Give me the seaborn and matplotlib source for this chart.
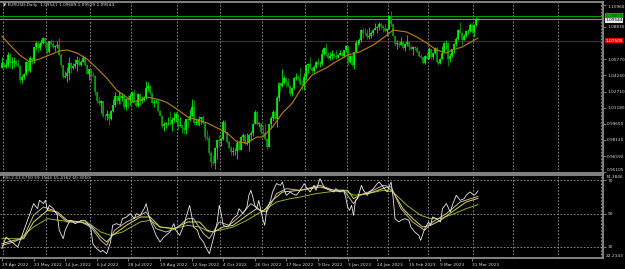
import numpy as np
import pandas as pd
import matplotlib
matplotlib.use("Agg")
import matplotlib.pyplot as plt
import seaborn as sns

# ---------------- data (EURUSD daily) ----------------
first_open = 1.0498
closes = [1.0545,
    1.0507,1.0525,1.0620,1.0540,1.0550, 1.0560,1.0530,1.0515,1.0380,1.0410, 1.0435,1.0550,1.0465,1.0585,1.0560, 1.0690,1.0735,1.0680,1.0725,1.0735, 1.0780,1.0735,
    1.0650,1.0750,1.0720, 1.0695,1.0705,1.0715,1.0615,1.0520, 1.0410,1.0415,1.0445,1.0545,1.0495, 1.0510,1.0535,1.0570,1.0520,1.0555, 1.0585,1.0520,1.0440,1.0480,
    1.0425, 1.0420,1.0265,1.0180,1.0160,1.0185, 1.0040,1.0035,1.0060,1.0015,1.0085, 1.0145,1.0225,1.0180,1.0230,1.0210, 1.0225,1.0120,1.0200,1.0195,1.0225,
    1.0260,1.0165,1.0135,1.0245,1.0185, 1.0195,1.0210,1.0300,1.0320,1.0260, 1.0160,1.0170,1.0175,1.0090,1.0040, 0.9945,0.9965,0.9970,0.9975,0.9965, 1.0000,1.0020,1.0055,
    0.9945,0.9955, 0.9925,0.9905,1.0010,1.0000,1.0040, 1.0120,0.9970,0.9980,0.9995,1.0015, 1.0025,0.9970,0.9840,0.9835,0.9690, 0.9605,0.9595,0.9735,0.9815,0.9800,
    0.9825,0.9985,0.9885,0.9795,0.9740, 0.9700,0.9705,0.9705,0.9780,0.9720, 0.9840,0.9855,0.9775,0.9780,0.9860, 0.9880,0.9965,1.0080,0.9965,0.9965, 0.9885,
    0.9875,0.9820,0.9750,0.9960, 1.0020,1.0075,1.0010,1.0210,1.0355, 1.0325,1.0350,1.0395,1.0365,1.0325, 1.0245,1.0305,1.0395,1.0410,1.0400, 1.0340,1.0330,1.0405,
    1.0525,1.0535, 1.0490,1.0465,1.0505,1.0555,1.0530, 1.0535,1.0630,1.0680,1.0625,1.0585, 1.0605,1.0625,1.0605,1.0595,1.0615, 1.0640,1.0610,1.0660,1.0705,
    1.0550,1.0605,1.0520,1.0645, 1.0730,1.0735,1.0760,1.0855,1.0830, 1.0825,1.0790,1.0795,1.0830,1.0855, 1.0870,1.0885,1.0915,1.0890,1.0870, 1.0845,1.0860,
    1.0990,1.0910,1.0795, 1.0725,1.0725,1.0715,1.0745,1.0680, 1.0725,1.0740,1.0690,1.0675,1.0695, 1.0685,1.0650,1.0605,1.0595,1.0545, 1.0610,1.0575,
    1.0670,1.0595,1.0635, 1.0685,1.0550,1.0545,1.0580,1.0640, 1.0730,1.0735,1.0575,1.0610,1.0670, 1.0720,1.0770,1.0855,1.0830,1.0760, 1.0800,1.0845,1.0845,1.0905,1.0840,
    1.0900,1.09541,1.09544]
highs = [1.0594,
    1.0546,1.0577,1.0642,1.0641,1.0600, 1.0594,1.0580,1.0578,1.0520,1.0425, 1.0445,1.0565,1.0565,1.0605,1.0600, 1.0697,1.0748,1.0738,1.0737,1.0765, 1.0787,1.0775,
    1.0740,1.0750,1.0765, 1.0755,1.0710,1.0747,1.0774,1.0640, 1.0525,1.0470,1.0505,1.0600,1.0550, 1.0545,1.0580,1.0605,1.0600,1.0570, 1.0615,1.0605,1.0530,1.0485,
    1.0485, 1.0460,1.0430,1.0275,1.0215,1.0190, 1.0150,1.0055,1.0095,1.0070,1.0098, 1.0200,1.0270,1.0233,1.0278,1.0255, 1.0257,1.0250,1.0210,1.0235,1.0255,
    1.0275,1.0294,1.0195,1.0254,1.0250, 1.0230,1.0230,1.0368,1.0365,1.0330, 1.0250,1.0200,1.0200,1.0200,1.0095, 1.0045,0.9980,0.9980,1.0030,1.0090, 1.0030,1.0080,1.0080,
    1.0055,1.0030, 0.9945,0.9990,1.0015,1.0030,1.0110, 1.0198,1.0187,1.0020,1.0015,1.0035, 1.0030,1.0050,0.9975,0.9905,0.9855, 0.9710,0.9670,0.9750,0.9815,0.9855,
    0.9840,0.9998,1.0000,0.9890,0.9815, 0.9755,0.9745,0.9735,0.9810,0.9810, 0.9850,0.9875,0.9870,0.9875,0.9870, 0.9900,0.9975,1.0093,1.0090,0.9985, 0.9975,
    0.9955,0.9975,0.9830,0.9965, 1.0035,1.0095,1.0095,1.0225,1.0365, 1.0365,1.0480,1.0420,1.0395,1.0400, 1.0335,1.0315,1.0410,1.0450,1.0430, 1.0495,1.0385,1.0450,
    1.0535,1.0545, 1.0595,1.0505,1.0520,1.0565,1.0590, 1.0560,1.0675,1.0695,1.0735,1.0645, 1.0645,1.0660,1.0640,1.0660,1.0625, 1.0665,1.0650,1.0665,1.0715,
    1.0685,1.0620,1.0620,1.0650, 1.0760,1.0760,1.0775,1.0865,1.0875, 1.0870,1.0865,1.0885,1.0845,1.0860, 1.0925,1.0890,1.0930,1.0930,1.0900, 1.0915,1.0870,
    1.1000,1.1033,1.0925, 1.0795,1.0755,1.0750,1.0790,1.0745, 1.0735,1.0805,1.0745,1.0715,1.0705, 1.0705,1.0700,1.0665,1.0630,1.0600, 1.0620,1.0645,
    1.0690,1.0670,1.0640, 1.0695,1.0695,1.0565,1.0590,1.0700, 1.0740,1.0760,1.0740,1.0640,1.0675, 1.0730,1.0790,1.0860,1.0930,1.0835, 1.0815,1.0850,1.0865,1.0925,1.0925,
    1.0915,1.0973,1.09689]
lows = [1.0490,
    1.0490,1.0493,1.0505,1.0493,1.0484, 1.0506,1.0512,1.0505,1.0355,1.0350, 1.0390,1.0430,1.0460,1.0460,1.0532, 1.0545,1.0660,1.0640,1.0660,1.0700, 1.0717,1.0680,
    1.0627,1.0640,1.0710, 1.0680,1.0655,1.0680,1.0605,1.0505, 1.0400,1.0400,1.0358,1.0380,1.0445, 1.0485,1.0490,1.0470,1.0510,1.0510, 1.0550,1.0510,1.0435,1.0382,
    1.0365, 1.0405,1.0235,1.0160,1.0145,1.0072, 1.0030,0.9998,0.9998,0.9952,1.0005, 1.0080,1.0125,1.0155,1.0155,1.0155, 1.0180,1.0110,1.0095,1.0115,1.0145,
    1.0180,1.0160,1.0125,1.0123,1.0140, 1.0160,1.0180,1.0200,1.0275,1.0235, 1.0150,1.0120,1.0160,1.0080,1.0035, 0.9925,0.9900,0.9925,0.9955,0.9950, 0.9900,0.9980,0.9985,
    0.9910,0.9940, 0.9875,0.9865,0.9865,0.9930,0.9995, 1.0050,0.9955,0.9955,0.9955,0.9945, 0.9965,0.9965,0.9810,0.9807,0.9670, 0.9555,0.9570,0.9536,0.9635,0.9750,
    0.9755,0.9815,0.9875,0.9785,0.9735, 0.9670,0.9670,0.9670,0.9630,0.9715, 0.9720,0.9805,0.9760,0.9760,0.9705, 0.9810,0.9850,0.9960,0.9950,0.9935, 0.9870,
    0.9855,0.9815,0.9730,0.9745, 0.9925,0.9995,1.0000,0.9935,1.0180, 1.0270,1.0310,1.0345,1.0310,1.0310, 1.0225,1.0225,1.0295,1.0380,1.0375, 1.0330,1.0290,1.0290,
    1.0385,1.0445, 1.0480,1.0445,1.0445,1.0495,1.0520, 1.0505,1.0525,1.0620,1.0610,1.0575, 1.0570,1.0575,1.0590,1.0575,1.0585, 1.0615,1.0595,1.0600,1.0645,
    1.0520,1.0540,1.0515,1.0483, 1.0645,1.0715,1.0720,1.0740,1.0780, 1.0810,1.0765,1.0770,1.0775,1.0810, 1.0855,1.0830,1.0850,1.0865,1.0835, 1.0840,1.0800,
    1.0860,1.0895,1.0795, 1.0705,1.0670,1.0695,1.0710,1.0670, 1.0655,1.0700,1.0660,1.0660,1.0615, 1.0660,1.0635,1.0600,1.0575,1.0535, 1.0530,1.0575,
    1.0575,1.0580,1.0580, 1.0630,1.0545,1.0525,1.0530,1.0575, 1.0635,1.0675,1.0516,1.0550,1.0595, 1.0635,1.0705,1.0760,1.0825,1.0715, 1.0755,1.0790,1.0815,1.0840,1.0830,
    1.0790,1.0895,1.09529]

# moving average on price (bar index, value)
ma_bar = [0,4,9,14,19,24,29,33,38,43,48,53,58,63,66,70,73,76,80,83,87,94,99,104,109,114,119,124,129,132,
          137,142,147,152,157,164,168,175,181,188,195,198,205,210,215,220,225,228,233,241]
ma_val = [1.0797,1.0712,1.0617,1.0551,1.0579,1.0617,1.0655,1.0665,1.0636,1.0579,1.0494,1.0399,1.0286,1.0219,
          1.0172,1.0191,1.0219,1.0210,1.0191,1.0172,1.0124,1.0030,1.0001,0.9973,0.9925,0.9878,0.9793,0.9783,
          0.9840,0.9840,0.9935,1.0068,1.0162,1.0314,1.0428,1.0494,1.0541,1.0617,1.0646,1.0712,1.0807,1.0854,
          1.0835,1.0788,1.0731,1.0665,1.0636,1.0665,1.0693,1.0778]

# RSI (white) readings
rsi_bar = [0,2,8,12,16,18,19,21,22,23,24,26,28,29,31,32,34,35,37,39,40,42,44,45,46,48,50,51,53,55,56,58,60,61,63,65,
           67,68,70,72,73,75,77,78,80,82,83,85,87,88,90,92,94,95,96,97,99,100,102,104,105,107,109,110,111,112,114,115,
           117,119,120,122,124,125,126,127,128,129,130,132,133,134,136,137,139,141,142,143,144,146,147,149,151,153,154,
           156,158,159,161,163,164,166,168,169,171,173,174,175,176,177,178,179,180,181,182,183,185,186,188,190,191,193,
           195,196,197,198,199,201,202,204,206,207,209,211,212,214,216,217,218,220,222,223,225,227,228,230,232,234,235,
           237,239,240,241]
rsi_val = [29,36,30,43,56,53,58,56,58,52,55,53,49,40,35,40,45,46,44,45,46,46,43,41,32,29,27,28,26,33,43,44,43,47,48,50,
           47,50,49,53,56,46,40,37,33,36,37,39,44,40,37,43,51,55,49,42,40,36,33,28,26,35,45,55,50,43,42,43,
           47,49,53,50,54,61,64,60,55,53,58,47,43,52,58,63,68,67,69,64,61,63,62,61,64,68,66,
           63,67,64,71,66,65,64,63,65,63,64,60,54,52,55,49,58,59,63,67,64,61,63,65,68,69,66,
           63,66,69,60,47,45,46,47,46,42,39,37,34,41,45,43,48,47,45,53,56,51,55,61,58,59,61,
           63,61,62,63.675]

# RSI signal lines
fast_bar = [0,6,11,16,21,26,33,40,45,50,53,57,63,70,73,78,83,88,94,97,102,105,110,115,121,126,131,134,139,144,151,161,
            168,173,178,181,188,193,197,202,208,214,218,225,232,241]
fast_val = [31,33,36,49,54,52,45,45,42,34,31,40,45,49,51,41,39,41,47,47,38,35,45,43,49,56,52,51,62,65,64,67,
            64,64,56,61,64,67,66,53,45,40,45,50,57,60.305]
mid_bar = [0,6,11,16,23,28,33,40,45,50,53,56,63,70,75,80,87,94,100,104,107,112,117,124,129,132,137,142,151,161,168,
           175,178,181,188,195,198,203,208,213,217,222,229,235,241]
mid_val = [32,34,35,45,52,51,46,45,43,36,33,37,43,48,48,42,41,45,45,40,39,42,43,49,53,51,58,63,64,66,64,
           64,59,61,63,66,63,53,47,42,43,46,52,57,59.1544]
slow_bar = [0,9,16,23,29,36,43,50,55,61,70,75,80,87,94,100,105,110,117,124,131,134,139,146,151,159,168,175,178,185,
            193,198,205,212,217,222,229,235,241]
slow_val = [35,35,42,47,46,45,45,39,37,39,45,46,42,41,43,42,39,40,42,46,51,53,57,59,60,62,63.4,63,61,62,
            64,63,55,49,47,47,50,53,55.4162]

tick_labels = ["29 Apr 2022", "23 May 2022", "14 Jun 2022", "6 Jul 2022", "28 Jul 2022", "19 Aug 2022",
               "12 Sep 2022", "4 Oct 2022", "26 Oct 2022", "17 Nov 2022", "9 Dec 2022", "3 Jan 2023",
               "24 Jan 2023", "15 Feb 2023", "9 Mar 2023", "31 Mar 2023"]
price_ticks = [1.10960, 1.08830, 1.05770, 1.04240, 1.02710, 1.01180, 0.99650, 0.98120, 0.96590, 0.95105]
hline_green = 1.09870
hline_bid = 1.09544
hline_red = 1.07505
rsi_levels = [70, 50, 30]
rsi_max, rsi_min = 74.3846, 22.2343

header = "\u25BC EURUSD,Daily  1.09541 1.09689 1.09529 1.09544"
rsi_header = "RSI-2 63.6750 59.1544 55.4162 60.3050"

# ---------------- calendar ----------------
all_days = pd.bdate_range("2022-04-29", "2023-07-31")
all_days = all_days.drop(pd.to_datetime(["2022-12-26", "2023-01-02"]))
n = len(closes)
assert len(highs) == n and len(lows) == n, (n, len(highs), len(lows))
idx = np.arange(n)
opens = np.array([first_open] + closes[:-1])
closes_a = np.array(closes)
highs_a = np.maximum(np.array(highs), np.maximum(opens, closes_a))
lows_a = np.minimum(np.array(lows), np.minimum(opens, closes_a))

tick_pos = [all_days.get_loc(pd.to_datetime(t, format="%d %b %Y")) for t in tick_labels]
months = pd.Series(np.arange(len(all_days)), index=all_days)
month_first = months.groupby([all_days.year, all_days.month]).min().values[1:]
grid_pos = month_first - 0.5

# ---------------- figure ----------------
W, H = 625, 269
BG = "black"
TXT = "#d8d8d8"
GRID = "#9a9a9a"
BORDER = "#8c8c8c"
FS = 3.1
fig = plt.figure(figsize=(W / 100, H / 100), dpi=100, facecolor=BG)

def rect(x0, y0, x1, y1):
    return [x0 / W, 1 - y1 / H, (x1 - x0) / W, (y1 - y0) / H]

ax = fig.add_axes(rect(0, 2, 603, 173), facecolor=BG)
ax2 = fig.add_axes(rect(0, 174.5, 603, 258), facecolor=BG)

xlim = (-1.01, 304.3)
for a in (ax, ax2):
    a.set_xlim(*xlim)
    a.spines["left"].set_visible(False)
    for s in ("top", "right", "bottom"):
        a.spines[s].set_color(BORDER)
        a.spines[s].set_linewidth(1.3)
    for gp in grid_pos:
        a.axvline(gp, color=GRID, lw=0.6, ls=(0, (2, 2)), zorder=0)

# price panel
ax.set_ylim(0.94989, 1.11197)
up = closes_a >= opens
col_up, col_dn = "#00ff00", "#00a400"
colors = np.where(up, col_up, col_dn)
ax.vlines(idx, lows_a, highs_a, colors=colors, lw=0.55, zorder=3)
body_lo = np.minimum(opens, closes_a)
body_hi = np.maximum(opens, closes_a)
body_hi = np.where(body_hi - body_lo < 0.0004, body_lo + 0.0004, body_hi)
ax.vlines(idx, body_lo, body_hi, colors=colors, lw=1.15, zorder=4)

sns.lineplot(x=ma_bar, y=ma_val, ax=ax, color="#b8820a", lw=0.8, estimator=None, zorder=5)

ax.axhline(hline_green, color="#00a000", lw=0.8, zorder=2)
ax.axhline(hline_bid, color="#7a8a99", lw=0.8, zorder=2)
ax.axhline(hline_red, color="#b00000", lw=0.8, zorder=2)

ax.yaxis.tick_right()
ax.set_yticks(price_ticks)
ax.set_yticklabels([f"{v:.5f}" for v in price_ticks])
ax.tick_params(axis="y", colors=BORDER, labelcolor=TXT, labelsize=FS, length=2, width=0.6, pad=1.0)
ax.set_xticks([])
ax.set_xlabel("")
ax.set_ylabel("")
lbls = ax.get_yticklabels()
lbls[0].set_va("top")
lbls[-1].set_va("bottom")

def price_box(v, fc, tc, dy=0):
    ax.annotate(f"{v:.5f}", xy=(1, v), xycoords=("axes fraction", "data"), xytext=(1.6, dy),
                textcoords="offset points", ha="left", va="center", fontsize=FS, color=tc,
                bbox=dict(boxstyle="square,pad=0.12", fc=fc, ec="none"), zorder=10,
                annotation_clip=False)

price_box(hline_green, "#00b400", "#002800", dy=0.3)
price_box(hline_bid, "#e6e6e6", "#000000", dy=-0.6)
price_box(hline_red, "#e00000", "#ffffff")

# RSI panel
r_top = 70 + (180.3 - 174.5) / 1.6675
r_bot = 70 - (258 - 180.3) / 1.6675
ax2.set_ylim(r_bot, r_top)
for lv in rsi_levels:
    ax2.axhline(lv, color=GRID, lw=0.6, ls=(0, (2, 2)), zorder=0)
sns.lineplot(x=slow_bar, y=slow_val, ax=ax2, color="#8fb52a", lw=0.7, estimator=None, zorder=3)
sns.lineplot(x=mid_bar, y=mid_val, ax=ax2, color="#d6dc55", lw=0.7, estimator=None, zorder=4)
sns.lineplot(x=fast_bar, y=fast_val, ax=ax2, color="#c9b2a2", lw=0.7, estimator=None, zorder=5)
sns.lineplot(x=rsi_bar, y=rsi_val, ax=ax2, color="#e8e8e8", lw=0.6, estimator=None, zorder=6)

ax2.yaxis.tick_right()
ax2.set_yticks(rsi_levels)
ax2.set_yticklabels([str(v) for v in rsi_levels])
ax2.tick_params(axis="y", colors=BORDER, labelcolor=TXT, labelsize=FS, length=2, width=0.6, pad=1.0)
ax2.set_xticks(tick_pos)
ax2.set_xticklabels(tick_labels)
for lab in ax2.get_xticklabels():
    lab.set_ha("left")
ax2.tick_params(axis="x", colors=BORDER, labelcolor=TXT, labelsize=FS, length=2.5, width=0.6, pad=1.2)
ax2.set_xlabel("")
ax2.set_ylabel("")
ax2.text(1.004, 1.0, f"{rsi_max:.4f}", transform=ax2.transAxes, ha="left", va="top",
         fontsize=FS, color=TXT)
ax2.text(1.004, 0.0, f"{rsi_min:.4f}", transform=ax2.transAxes, ha="left", va="bottom",
         fontsize=FS, color=TXT)

fig.text(3 / W, 1 - 5 / H, header, ha="left", va="center", fontsize=FS, color=TXT)
fig.text(3 / W, 1 - 178 / H, rsi_header, ha="left", va="center", fontsize=FS, color=TXT)

fig.savefig("out.png", dpi=100, facecolor=BG)
